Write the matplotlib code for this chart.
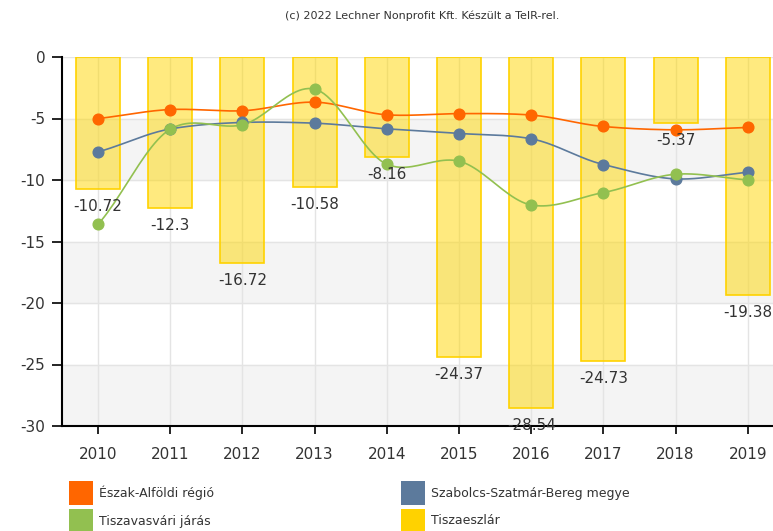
import numpy as np
import matplotlib.pyplot as plt
from matplotlib.patches import Rectangle

# adatok
years = ['2010', '2011', '2012', '2013', '2014', '2015', '2016', '2017', '2018', '2019']
eszak_alfoldi = [-5.0, -4.27, -4.37, -3.67, -4.7, -4.6, -4.72, -5.65, -5.92, -5.73]
szabolcs = [-7.71, -5.85, -5.32, -5.38, -5.84, -6.22, -6.65, -8.74, -9.91, -9.37]
tiszavasvari = [-13.6, -5.87, -5.51, -2.61, -8.72, -8.47, -12.03, -11.02, -9.53, -9.99]
tiszaeszlar = [-10.72, -12.3, -16.72, -10.58, -8.16, -24.37, -28.54, -24.73, -5.37, -19.38]

series_names = ['Észak-Alföldi régió', 'Szabolcs-Szatmár-Bereg megye',
                'Tiszavasvári járás', 'Tiszaeszlár']
colors = ['#FF6600', '#5C7A9C', '#92C050', '#FFD200']


# simított vonal (Catmull-Rom jellegű Hermite spline)
def smooth(x, y, n=24, tension=0.85):
    x = np.asarray(x, float)
    y = np.asarray(y, float)
    m = np.gradient(y, x) * tension
    xs, ys = [], []
    for i in range(len(x) - 1):
        t = np.linspace(0, 1, n)
        h = x[i + 1] - x[i]
        h00 = 2 * t**3 - 3 * t**2 + 1
        h10 = t**3 - 2 * t**2 + t
        h01 = -2 * t**3 + 3 * t**2
        h11 = t**3 - t**2
        xs.append(x[i] + t * h)
        ys.append(h00 * y[i] + h10 * h * m[i] + h01 * y[i + 1] + h11 * h * m[i + 1])
    return np.concatenate(xs), np.concatenate(ys)


fig = plt.figure(figsize=(7.73, 5.31), dpi=100)
ax = fig.add_axes([62 / 773, 1 - 426 / 531, 1 - 62 / 773, (426 - 57) / 531])

x = np.arange(len(years))

# szürke sávok
yticks = np.arange(0, -35, -5)
for i in range(1, len(yticks) - 1, 2):
    ax.axhspan(yticks[i + 1], yticks[i], color='#F4F4F4', zorder=0)

ax.set_axisbelow(True)
ax.grid(True, color='#E4E4E4', linewidth=1)

# oszlopok
ax.bar(x, tiszaeszlar, width=0.61, color='#FFD700', alpha=0.5, zorder=2)
ax.bar(x, tiszaeszlar, width=0.61, facecolor='none', edgecolor='#FFD200',
       linewidth=1.2, zorder=2)
for xi, v in zip(x, tiszaeszlar):
    ax.annotate(f'{v:g}', (xi, v), xytext=(0, -12.6), textcoords='offset points',
                ha='center', va='center', fontsize=11, color='#333333',
                annotation_clip=False, zorder=6)

# vonalak
for vals, c in zip([eszak_alfoldi, szabolcs, tiszavasvari], colors[:3]):
    sx, sy = smooth(x, vals)
    ax.plot(sx, sy, color=c, linewidth=1.2, zorder=4)
    ax.plot(x, vals, 'o', color=c, markersize=7.7, zorder=5)

ax.set_xlim(-0.5, 9.35)
ax.set_ylim(-30, 0)
ax.set_xticks(x)
ax.set_xticklabels(years)
ax.set_yticks(yticks)
ax.set_yticklabels([f'{t:d}' for t in yticks])
ax.tick_params(axis='both', colors='#333333', labelsize=11, direction='out')
ax.tick_params(axis='y', length=7, width=1.2, pad=5, color='black')
ax.tick_params(axis='x', length=6, width=1.2, pad=9, color='black')

for s in ['top', 'right']:
    ax.spines[s].set_visible(False)
for s in ['left', 'bottom']:
    ax.spines[s].set_color('black')
    ax.spines[s].set_linewidth(1.5)

fig.text(422 / 773, 1 - 16 / 531, '(c) 2022 Lechner Nonprofit Kft. Készült a TeIR-rel.',
         ha='center', va='center', fontsize=8, color='#333333')

# jelmagyarázat (soronként két elem)
leg_x = [69, 401]
leg_y = [493, 521]
for i, (name, c) in enumerate(zip(series_names, colors)):
    col = i % 2
    row = i // 2
    lx = leg_x[col]
    ly = leg_y[row]
    fig.add_artist(Rectangle((lx / 773, 1 - (ly + 12) / 531), 24 / 773, 24 / 531,
                             transform=fig.transFigure, facecolor=c, edgecolor='none'))
    fig.text((lx + 30) / 773, 1 - ly / 531, name, ha='left', va='center',
             fontsize=9, color='#333333')

fig.savefig('out.png', dpi=100)
